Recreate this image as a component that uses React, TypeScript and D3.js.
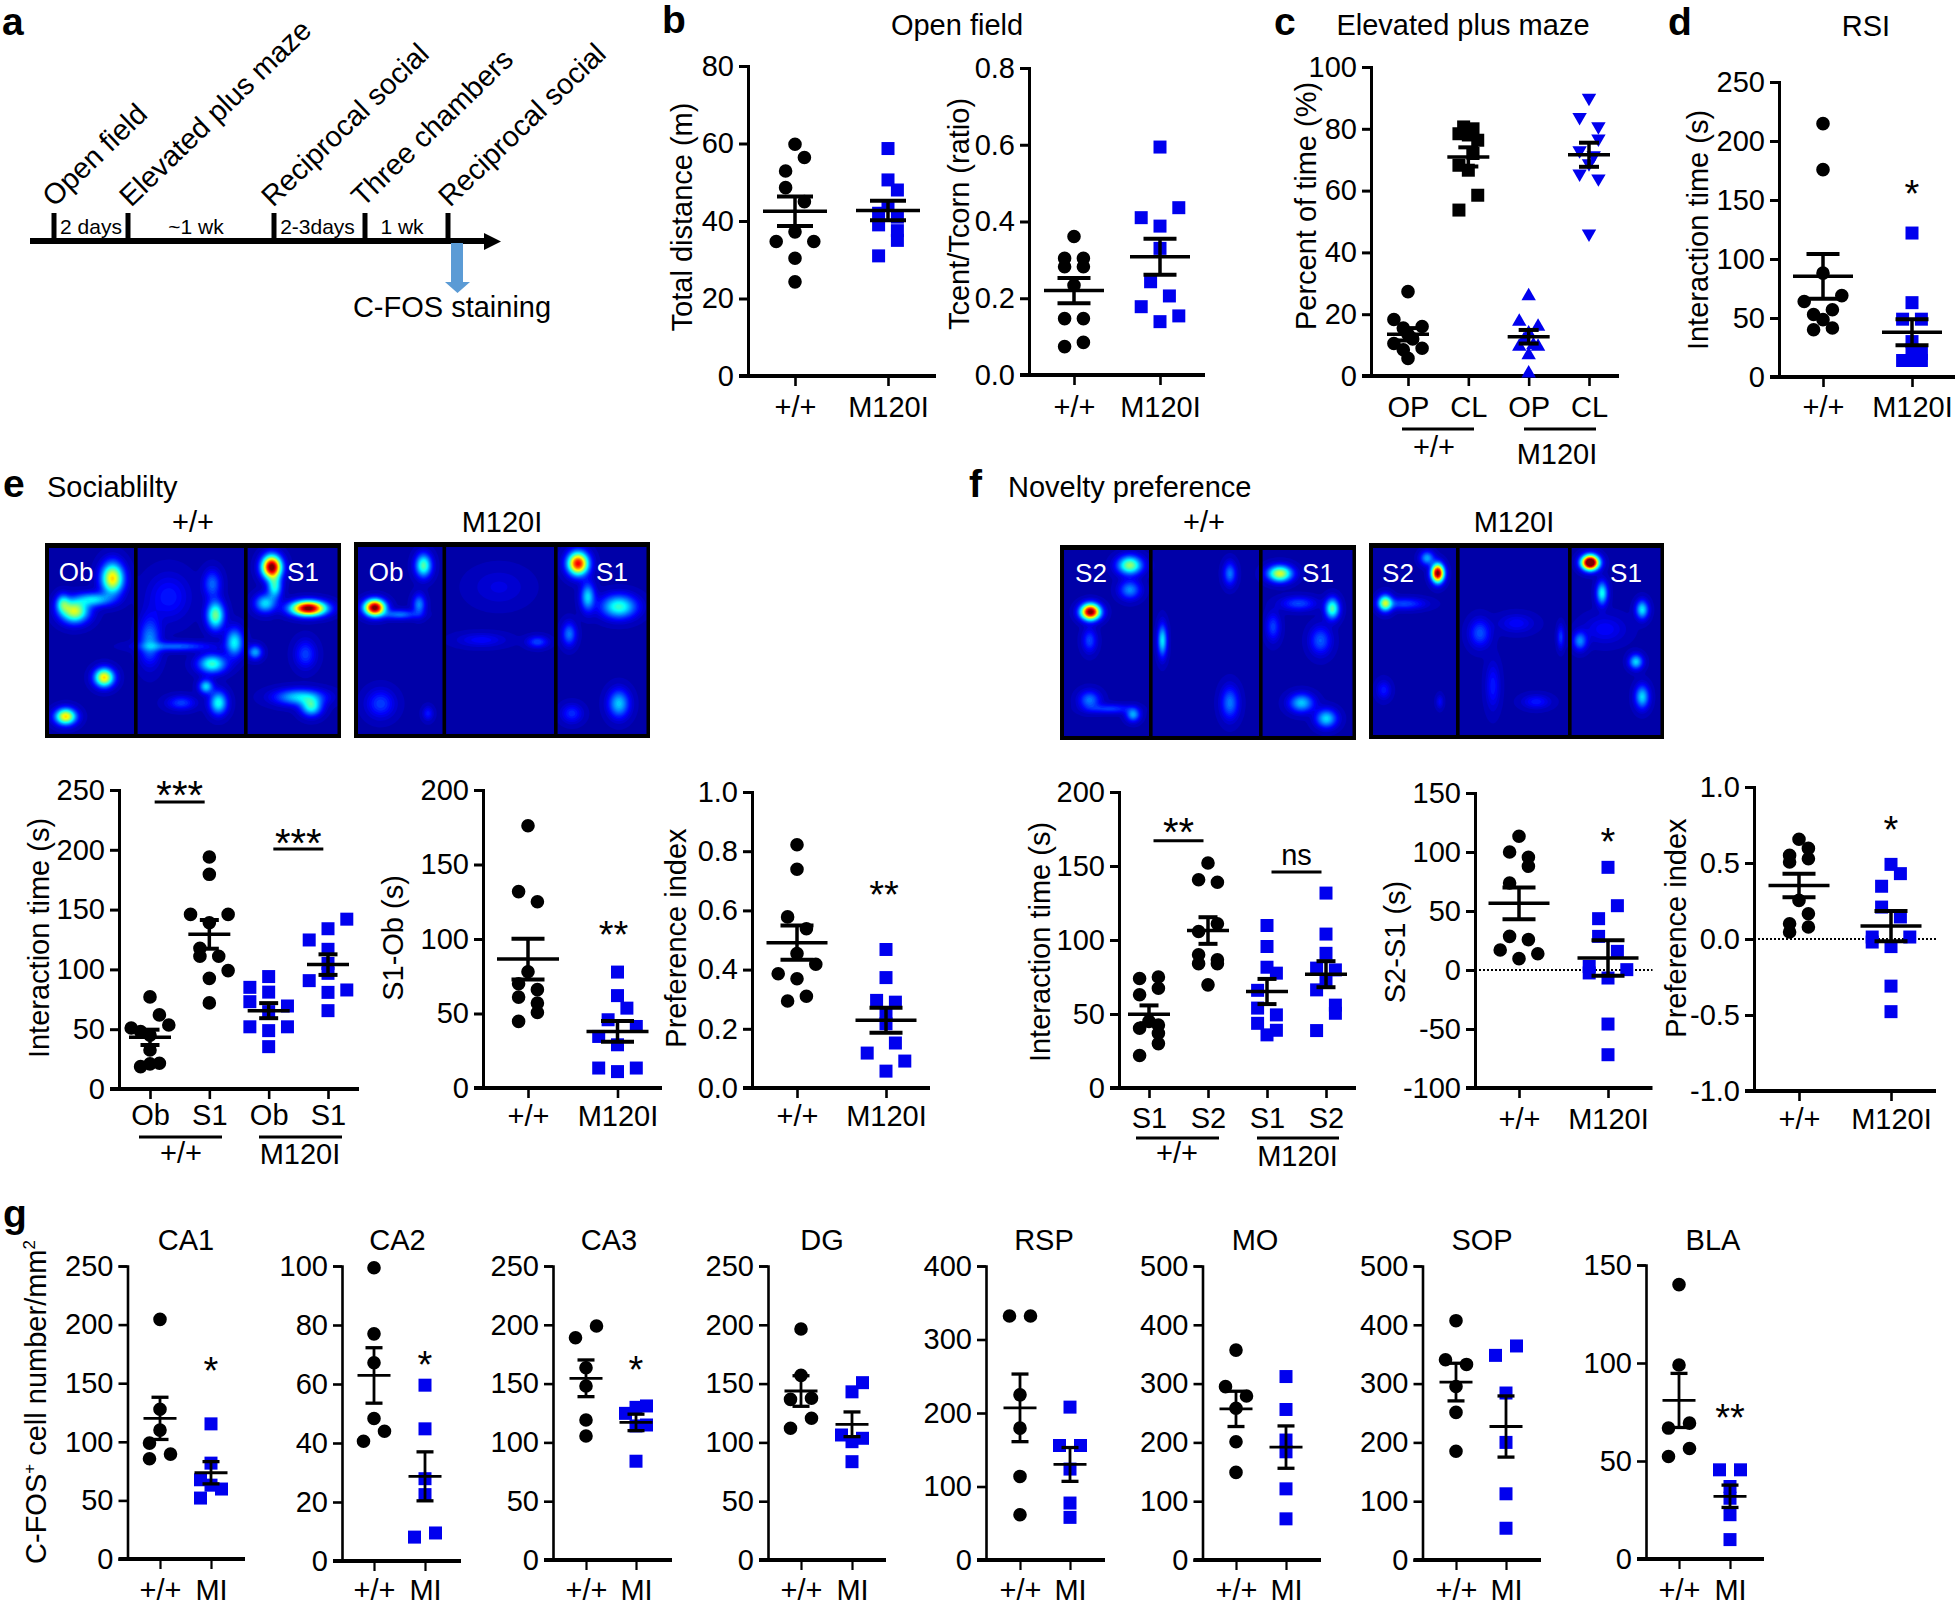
import React, { useEffect, useRef } from "react";
import * as d3 from "d3";

type Pt = [number, number]; // value, swarm column
type Stat = [number, number]; // mean, sem

const FONT = "'Liberation Sans', Arial, sans-serif";
const BLUE = "#0000ee";

// panel b
const bDistWt: Pt[] = [[59.8, 0], [56.4, 1], [52.9, -1], [48.6, -1], [45, 1], [37.2, 0], [34.7, -2], [34.7, 2], [30.4, 0], [24.3, 0]];
const bDistMut: Pt[] = [[58.7, 0], [50.6, 0], [48, 1], [44, 0], [42, -1], [41, 1], [39, -1], [37.5, 1], [35, 1], [31, -1]];
const bDistStats: Stat[] = [[42.5, 3.8], [42.7, 2.5]];
const bRatioWt: Pt[] = [[0.361, 0], [0.304, -1], [0.304, 1], [0.282, -1], [0.282, 1], [0.234, 0], [0.147, -1], [0.147, 1], [0.085, 1], [0.074, -1]];
const bRatioMut: Pt[] = [[0.594, 0], [0.436, 2], [0.41, -2], [0.388, 0], [0.33, 0], [0.243, -1], [0.206, 1], [0.178, -2], [0.154, 2], [0.139, 0]];
const bRatioStats: Stat[] = [[0.22, 0.033], [0.308, 0.047]];

// panel c, columns are half as wide here
const cOpWt: Pt[] = [[27.3, 0], [18.3, -3], [16, 3], [15.5, -1], [13.5, 0], [12, 1], [10.5, -3], [9, 3], [8.5, -1], [5.7, 0]];
const cClWt: Pt[] = [[80.6, -1], [80, 1], [78.4, -2], [78, 0], [76.3, 2], [72, 1], [68.2, -2], [66.6, 0], [58.5, 2], [53.7, -2]];
const cOpMut: Pt[] = [[25.9, 0], [17.6, -2], [16, 2], [13.8, 0], [11.6, -1], [9.5, -2], [9.5, 2], [10, 1], [6.8, 0], [0.9, 0]];
const cClMut: Pt[] = [[90, 0], [83.8, -2], [80.8, 2], [76.8, 2], [73, -2], [71.4, 1], [68.8, 0], [65.5, -2], [63.9, 2], [46.1, 0]];
const cStats: Stat[] = [[13.5, 2], [70.9, 3.1], [12.7, 2.2], [71.6, 3.9]];

// panel d
const dWt: Pt[] = [[214.7, 0], [175.7, 0], [88, 0], [69, 2], [64, -2], [57, 1], [53, -1], [48.6, 0], [41.5, 1], [40, -1]];
const dMut: Pt[] = [[122, 0], [63, 0], [49, -1], [49, 1], [30, 0], [23, 0], [20, 1], [14, -1], [14, 0], [14, 1]];
const dStats: Stat[] = [[85.3, 19], [37.9, 11]];

// panel e
const eObWt: Pt[] = [[77, 0], [62, 1], [53.5, 2], [51, -2], [48, -1], [45, 0], [32.6, 0], [21.5, 1], [21, 0], [18.7, -1]];
const eS1Wt: Pt[] = [[194, 0], [179.5, 0], [146, -2], [146, 2], [139, 0], [117.6, -1], [111, -1], [111, 1], [99, 2], [92.5, 0], [72, 0]];
const eObMut: Pt[] = [[94, 0], [85, -2], [81, 0], [73, -2], [69.4, 2], [64.7, 0], [52, -2], [52, 2], [48.8, 0], [35.4, 0]];
const eS1Mut: Pt[] = [[142, 2], [134, 0], [124.6, -2], [116.8, 0], [105, 0], [96.7, 0], [90.6, -2], [82.8, 2], [80.8, 0], [65.5, 0]];
const eTimeStats: Stat[] = [[43.2, 6.4], [129.3, 12], [65.5, 6.3], [104, 8.6]];
const eDiffWt: Pt[] = [[176, 0], [131.8, -1], [125, 1], [78, 0], [70, -1], [66, 1], [61, -1], [57, 1], [50.7, 1], [44.7, -1]];
const eDiffMut: Pt[] = [[77.8, 0], [62, 0], [53.6, 1], [45.8, -1], [41.3, 2], [34.6, -2], [29, 0], [13.4, -2], [13.4, 2], [11, 0]];
const eDiffStats: Stat[] = [[86.5, 13.7], [38, 7]];
const ePrefWt: Pt[] = [[0.822, 0], [0.739, 0], [0.578, -1], [0.538, 1], [0.454, 0], [0.418, 2], [0.386, -2], [0.369, 0], [0.31, 1], [0.294, -1]];
const ePrefMut: Pt[] = [[0.468, 0], [0.373, 0], [0.296, -1], [0.29, 1], [0.25, 0], [0.217, 0], [0.152, 1], [0.118, -2], [0.091, 2], [0.057, 0]];
const ePrefStats: Stat[] = [[0.491, 0.058], [0.229, 0.042]];

// panel f
const fS1Wt: Pt[] = [[75, 1], [74, -1], [67.4, 1], [63, -1], [45, 0], [42.6, 1], [40.4, -1], [37, 1], [30, 1], [22, -1]];
const fS2Wt: Pt[] = [[152, 0], [140.7, -1], [139, 1], [111, 1], [105.7, -1], [90, -1], [86.6, 1], [84, -1], [84, 1], [69.7, 0]];
const fS1Mut: Pt[] = [[109.8, 0], [95.6, 0], [81.6, 0], [77.6, 1], [66, -1], [54, -1], [49.4, 1], [43.7, -1], [39, 1], [35.9, 0]];
const fS2Mut: Pt[] = [[131.7, 0], [104, 0], [91, 0], [81, -1], [79.8, 1], [73, 0], [66.3, -1], [56, 1], [50.5, 1], [38.8, -1]];
const fTimeStats: Stat[] = [[49.8, 6], [106.4, 9], [65.2, 8.5], [76.9, 8.8]];
const fDiffWt: Pt[] = [[113.3, 0], [100, -1], [95.5, 1], [87.9, 1], [73.7, -1], [28.5, -1], [25.7, 1], [17, -2], [13.8, 2], [9.6, 0]];
const fDiffMut: Pt[] = [[87, 0], [54.5, 1], [43.5, -1], [28.5, -1], [15.8, 1], [3, -2], [0.3, 2], [-2.5, -2], [-6.8, 0], [-45.8, 0], [-71.8, 0]];
const fDiffStats: Stat[] = [[56.5, 13.4], [10.2, 15]];
const fPrefWt: Pt[] = [[0.656, 0], [0.596, 1], [0.55, -1], [0.528, 1], [0.507, -1], [0.254, 0], [0.166, 1], [0.1, -1], [0.079, 1], [0.046, -1]];
const fPrefMut: Pt[] = [[0.491, 0], [0.43, 1], [0.347, -1], [0.21, -1], [0.145, 1], [0.013, -2], [0.013, 2], [-0.02, -2], [-0.05, 0], [-0.31, 0], [-0.478, 0]];
const fPrefStats: Stat[] = [[0.352, 0.077], [0.085, 0.1]];

// panel g
const gCa1Wt: Pt[] = [[204.5, 0], [127.8, 0], [110, 0], [98.9, -1], [89.5, 1], [85.5, -1]];
const gCa1Mut: Pt[] = [[115.3, 0], [81.8, 0], [67.6, -1], [63, 0], [59.7, 1], [52, -1]];
const gCa1Stats: Stat[] = [[120, 18], [73.6, 9.5]];
const gCa2Wt: Pt[] = [[99.4, 0], [77, 0], [67.2, 0], [48.3, 0], [44, 1], [40.6, -1]];
const gCa2Mut: Pt[] = [[59.6, 0], [44.8, 0], [27.9, 0], [22.5, 0], [9.5, 1], [8.1, -1]];
const gCa2Stats: Stat[] = [[62.9, 9.4], [28.7, 8.3]];
const gCa3Wt: Pt[] = [[199, 1], [189, -1], [163.5, 0], [148, 0], [119, 0], [105.4, 0]];
const gCa3Mut: Pt[] = [[131, 1], [129.8, 0], [124.7, -1], [114, 0], [114.8, 1], [84, 0]];
const gCa3Stats: Stat[] = [[154.5, 15.6], [117, 7]];
const gDgWt: Pt[] = [[196.4, 0], [157, 0], [136.6, -1], [137.5, 1], [120.5, 1], [112, -1]];
const gDgMut: Pt[] = [[150.8, 1], [143, 0], [106.3, -1], [103.5, 1], [100.6, 0], [83.6, 0]];
const gDgStats: Stat[] = [[143.7, 13], [115.4, 10.5]];
const gRspWt: Pt[] = [[332, -1], [332, 1], [224.7, 0], [179.4, 0], [113.7, 0], [61.6, 0]];
const gRspMut: Pt[] = [[208, 0], [155.8, -1], [155.8, 1], [123.7, 0], [77.5, 0], [58, 0]];
const gRspStats: Stat[] = [[207, 46], [130, 23]];
const gMoWt: Pt[] = [[357, 0], [294.8, -1], [279, 1], [258, 0], [201, 0], [149, 0]];
const gMoMut: Pt[] = [[312, 0], [256, 0], [204, 0], [184, 0], [121, 0], [70, 0]];
const gMoStats: Stat[] = [[257, 30], [192, 36]];
const gSopWt: Pt[] = [[407, 0], [340.5, -1], [332.6, 1], [295, 0], [251, 0], [185, 0]];
const gSopMut: Pt[] = [[364, 1], [348, -1], [284, 0], [200, 0], [112.6, 0], [54, 0]];
const gSopStats: Stat[] = [[302.6, 32], [227, 52]];
const gBlaWt: Pt[] = [[140, 0], [99, 0], [69.3, 1], [66.8, -1], [56.4, 1], [52.3, -1]];
const gBlaMut: Pt[] = [[45.5, -1], [45.5, 1], [37, 0], [31, 0], [22.6, 0], [9.9, 0]];
const gBlaStats: Stat[] = [[80.9, 13.8], [32, 5.7]];

const pairLabels = ["+/+", "M120I"];
const miLabels = ["+/+", "MI"];

// heat spots: centre u, v, spread su, sv (percent of the map), peak
type Spot = [number, number, number, number, number];
const heatSocialWt: Spot[] = [
  [22.8, 18.2, 3.2, 6.8, 0.62], [10, 35, 4, 5, 0.55], [16.5, 29, 5, 3, 0.3], [6, 31, 2, 4, 0.3],
  [20, 69, 2.8, 4, 0.62], [7, 89, 3, 3.5, 0.62], [57.6, 37, 2.5, 6, 0.45], [56.5, 21, 2.5, 6, 0.18],
  [64, 51, 2.5, 6, 0.33], [56.5, 62, 4, 4, 0.38], [54.4, 73.6, 2, 3, 0.3], [58.6, 82, 2.5, 5, 0.35],
  [35.4, 50, 3, 10, 0.22], [44, 53, 10, 2, 0.18], [46, 82, 4, 3, 0.14], [41.8, 27.6, 6, 10, 0.1],
  [76.6, 12.3, 2.8, 5, 1], [77.6, 22.5, 2, 5, 0.35], [89, 33.5, 5, 3.2, 1], [74.4, 31, 3, 4, 0.3],
  [86, 79, 7, 3.5, 0.3], [90, 84, 3, 4, 0.35], [71, 56, 2, 3, 0.25], [88, 57, 3, 6, 0.14],
];
const heatSocialMut: Spot[] = [
  [7, 33.5, 3, 3.5, 1], [23.5, 12, 2.3, 5, 0.42], [22, 32, 1.8, 4.5, 0.22], [15.4, 37, 5, 2, 0.2],
  [9, 82.5, 4, 6, 0.14], [25, 87.5, 1.5, 3, 0.1], [49, 23, 8, 8, 0.05], [62, 51, 3, 2.5, 0.15],
  [43, 50, 7, 3, 0.08], [75.7, 11, 3, 5, 0.85], [79, 28, 2, 6, 0.3], [89.5, 33, 5, 5, 0.38],
  [72.7, 47, 2, 5, 0.2], [89.5, 82.5, 3, 6, 0.28], [73.6, 87.5, 3, 4, 0.12],
];
const heatNoveltyWt: Spot[] = [
  [10.3, 34.3, 2.8, 3.5, 1], [23.6, 10.4, 3.5, 4, 0.48], [23.6, 23, 3, 4, 0.22], [10, 49, 2, 5, 0.15],
  [10, 79.5, 3, 4, 0.2], [24.7, 87, 2, 3, 0.25], [17, 84, 6, 2, 0.14], [57.4, 14.7, 1.8, 5, 0.2],
  [34.6, 49, 1.3, 7, 0.32], [57.4, 81, 2.5, 7, 0.2], [74.3, 14.7, 3.5, 3.5, 0.55], [92, 32.6, 2, 4.5, 0.42],
  [80.6, 30, 5, 3, 0.15], [88, 49, 3, 6, 0.17], [81.6, 81, 3.5, 4, 0.28], [90, 89, 3, 4, 0.3], [72, 42, 2, 6, 0.14],
];
const heatNoveltyMut: Spot[] = [
  [23.3, 15.4, 1.8, 4, 1], [19.7, 7.7, 2, 3, 0.25], [5.5, 30.7, 2, 3.5, 0.5], [12, 31, 6, 2.5, 0.15],
  [5, 75, 2, 4, 0.1], [24, 81, 1, 3, 0.08], [37.6, 46, 3, 6, 0.16], [50, 41, 5, 4, 0.08], [65, 48, 1, 5, 0.14],
  [42, 73, 2, 10, 0.1], [56.7, 81, 4, 3, 0.1], [75, 10, 2.5, 3.2, 1.2], [79, 25.6, 1.6, 5, 0.35],
  [92.6, 34, 1.8, 4, 0.32], [71.5, 50, 2, 4, 0.22], [90.5, 60.6, 2, 3.2, 0.3], [92.6, 78.5, 2, 5, 0.3], [80, 44, 6, 6, 0.08],
];

type Sig = { a: number; b: number; value: number; text: string; starValue: number };
type Star = { cat: number; value: number; text: string; dx?: number };
type Group = { text: string; center: number; base: number; x1: number; x2: number };

type Panel = {
  ax: number; top: number; bottom: number; xEnd: number;
  catX: [number, number];
  cats: string[];
  domain: [number, number];
  step: number;
  fmt?: (d: number) => string;
  series: Pt[][];
  stats: Stat[];
  shapes: string[];
  meanW: number; capW: number;
  labelBase: number;
  slotStep?: number;
  yTitle?: string; yTitleX?: number; yTitleY?: number;
  title?: string; titleX?: number; titleBase?: number;
  stars?: Star[];
  sigs?: Sig[];
  groups?: Group[];
  underY?: number;
  zero?: boolean;
  thin?: boolean;
  ns?: { a: number; b: number; value: number; textValue: number };
};

const fixed1 = (d: number) => d.toFixed(1);
const ci = ["circle", "square"];

const panels: Panel[] = [
  { ax: 748, top: 66, bottom: 376, xEnd: 936, catX: [795, 888], cats: pairLabels, domain: [0, 80], step: 20, series: [bDistWt, bDistMut], stats: bDistStats, shapes: ci, meanW: 64, capW: 36, labelBase: 417, yTitle: "Total distance (m)", yTitleX: 692, yTitleY: 217 },
  { ax: 1029, top: 68, bottom: 375, xEnd: 1205, catX: [1074, 1160], cats: pairLabels, domain: [0, 0.8], step: 0.2, fmt: fixed1, series: [bRatioWt, bRatioMut], stats: bRatioStats, shapes: ci, meanW: 60, capW: 33, labelBase: 417, yTitle: "Tcent/Tcorn (ratio)", yTitleX: 969, yTitleY: 214 },
  { ax: 1371, top: 67, bottom: 376, xEnd: 1619, catX: [1408, 1589], cats: ["OP", "CL", "OP", "CL"], domain: [0, 100], step: 20, series: [cOpWt, cClWt, cOpMut, cClMut], stats: cStats, shapes: ["circle", "squareK", "up", "down"], meanW: 42, capW: 20, labelBase: 417, slotStep: 4.7, yTitle: "Percent of time (%)", yTitleX: 1316, yTitleY: 206, underY: 429,
    groups: [{ text: "+/+", center: 1434, base: 457, x1: 1402, x2: 1474 }, { text: "M120I", center: 1557, base: 464, x1: 1524, x2: 1596 }] },
  { ax: 1779, top: 82, bottom: 377, xEnd: 1955, catX: [1823, 1912], cats: pairLabels, domain: [0, 250], step: 50, series: [dWt, dMut], stats: dStats, shapes: ci, meanW: 60, capW: 33, labelBase: 417, yTitle: "Interaction time (s)", yTitleX: 1708, yTitleY: 230, stars: [{ cat: 1, value: 163, text: "*" }] },
  { ax: 119, top: 790, bottom: 1089, xEnd: 359, catX: [150, 328], cats: ["Ob", "S1", "Ob", "S1"], domain: [0, 250], step: 50, series: [eObWt, eS1Wt, eObMut, eS1Mut], stats: eTimeStats, shapes: ["circle", "circle", "square", "square"], meanW: 42, capW: 19, labelBase: 1125, yTitle: "Interaction time (s)", yTitleX: 49, yTitleY: 938, underY: 1137,
    groups: [{ text: "+/+", center: 181, base: 1163, x1: 139, x2: 222 }, { text: "M120I", center: 300, base: 1164, x1: 259, x2: 342 }],
    sigs: [{ a: 0, b: 1, value: 240, text: "***", starValue: 253 }, { a: 2, b: 3, value: 200.7, text: "***", starValue: 213.6 }] },
  { ax: 483, top: 790, bottom: 1088, xEnd: 662, catX: [528, 617.5], cats: pairLabels, domain: [0, 200], step: 50, series: [eDiffWt, eDiffMut], stats: eDiffStats, shapes: ci, meanW: 62, capW: 33, labelBase: 1126, yTitle: "S1-Ob (s)", yTitleX: 403, yTitleY: 938, stars: [{ cat: 1, value: 109, text: "**", dx: -4 }] },
  { ax: 752, top: 792, bottom: 1088, xEnd: 930, catX: [797, 886], cats: pairLabels, domain: [0, 1], step: 0.2, fmt: fixed1, series: [ePrefWt, ePrefMut], stats: ePrefStats, shapes: ci, meanW: 61, capW: 33, labelBase: 1126, yTitle: "Preference index", yTitleX: 686, yTitleY: 938, stars: [{ cat: 1, value: 0.682, text: "**", dx: -2 }] },
  { ax: 1119, top: 792, bottom: 1088, xEnd: 1356, catX: [1149, 1326], cats: ["S1", "S2", "S1", "S2"], domain: [0, 200], step: 50, series: [fS1Wt, fS2Wt, fS1Mut, fS2Mut], stats: fTimeStats, shapes: ["circle", "circle", "square", "square"], meanW: 42, capW: 19, labelBase: 1128, yTitle: "Interaction time (s)", yTitleX: 1050, yTitleY: 942, underY: 1138,
    groups: [{ text: "+/+", center: 1177, base: 1163, x1: 1136, x2: 1219 }, { text: "M120I", center: 1297.5, base: 1166, x1: 1257, x2: 1339 }],
    sigs: [{ a: 0, b: 1, value: 167, text: "**", starValue: 179 }],
    ns: { a: 2, b: 3, value: 146, textValue: 151 } },
  { ax: 1475, top: 793, bottom: 1088, xEnd: 1652.5, catX: [1519, 1608], cats: pairLabels, domain: [-100, 150], step: 50, series: [fDiffWt, fDiffMut], stats: fDiffStats, shapes: ci, meanW: 61, capW: 33, labelBase: 1129, yTitle: "S2-S1 (s)", yTitleX: 1405, yTitleY: 942, zero: true, stars: [{ cat: 1, value: 116, text: "*" }] },
  { ax: 1754, top: 787, bottom: 1091, xEnd: 1936, catX: [1799, 1891], cats: pairLabels, domain: [-1, 1], step: 0.5, fmt: fixed1, series: [fPrefWt, fPrefMut], stats: fPrefStats, shapes: ci, meanW: 61, capW: 33, labelBase: 1129, yTitle: "Preference index", yTitleX: 1686, yTitleY: 928, zero: true, stars: [{ cat: 1, value: 0.776, text: "*" }] },
  { ax: 127.5, top: 1266, bottom: 1559, xEnd: 245, catX: [160, 211], cats: miLabels, domain: [0, 250], step: 50, series: [gCa1Wt, gCa1Mut], stats: gCa1Stats, shapes: ci, meanW: 33, capW: 17, labelBase: 1600, title: "CA1", titleX: 186, titleBase: 1250, thin: true, stars: [{ cat: 1, value: 168, text: "*" }] },
  { ax: 342, top: 1266, bottom: 1561, xEnd: 461, catX: [374, 425], cats: miLabels, domain: [0, 100], step: 20, series: [gCa2Wt, gCa2Mut], stats: gCa2Stats, shapes: ci, meanW: 33, capW: 17, labelBase: 1600, title: "CA2", titleX: 397.5, titleBase: 1250, thin: true, stars: [{ cat: 1, value: 69.5, text: "*" }] },
  { ax: 553, top: 1266, bottom: 1560, xEnd: 672, catX: [586, 636], cats: miLabels, domain: [0, 250], step: 50, series: [gCa3Wt, gCa3Mut], stats: gCa3Stats, shapes: ci, meanW: 33, capW: 17, labelBase: 1600, title: "CA3", titleX: 609, titleBase: 1250, thin: true, stars: [{ cat: 1, value: 169, text: "*" }] },
  { ax: 768, top: 1266, bottom: 1560, xEnd: 886, catX: [801, 852], cats: miLabels, domain: [0, 250], step: 50, series: [gDgWt, gDgMut], stats: gDgStats, shapes: ci, meanW: 33, capW: 17, labelBase: 1600, title: "DG", titleX: 822, titleBase: 1250, thin: true },
  { ax: 986, top: 1266, bottom: 1560, xEnd: 1105, catX: [1020, 1070], cats: miLabels, domain: [0, 400], step: 100, series: [gRspWt, gRspMut], stats: gRspStats, shapes: ci, meanW: 33, capW: 17, labelBase: 1600, title: "RSP", titleX: 1044, titleBase: 1250, thin: true },
  { ax: 1202.5, top: 1266, bottom: 1560, xEnd: 1321, catX: [1236, 1286], cats: miLabels, domain: [0, 500], step: 100, series: [gMoWt, gMoMut], stats: gMoStats, shapes: ci, meanW: 33, capW: 17, labelBase: 1600, title: "MO", titleX: 1255, titleBase: 1250, thin: true },
  { ax: 1422.5, top: 1266, bottom: 1560, xEnd: 1541, catX: [1456, 1506], cats: miLabels, domain: [0, 500], step: 100, series: [gSopWt, gSopMut], stats: gSopStats, shapes: ci, meanW: 33, capW: 17, labelBase: 1600, title: "SOP", titleX: 1482, titleBase: 1250, thin: true },
  { ax: 1646, top: 1265, bottom: 1559, xEnd: 1764, catX: [1679, 1730], cats: miLabels, domain: [0, 150], step: 50, series: [gBlaWt, gBlaMut], stats: gBlaStats, shapes: ci, meanW: 33, capW: 17, labelBase: 1600, title: "BLA", titleX: 1713, titleBase: 1250, thin: true, stars: [{ cat: 1, value: 76.5, text: "**" }] },
];

const heatMaps = [
  { x0: 45, x1: 341, y0: 543, y1: 738, dividers: [134, 244], spots: heatSocialWt, left: "Ob", right: "S1", leftX: 76, rightX: 303, labelY: 581 },
  { x0: 354, x1: 650, y0: 542, y1: 738, dividers: [442.5, 554], spots: heatSocialMut, left: "Ob", right: "S1", leftX: 386, rightX: 612, labelY: 581 },
  { x0: 1060, x1: 1356, y0: 545, y1: 740, dividers: [1149, 1259], spots: heatNoveltyWt, left: "S2", right: "S1", leftX: 1091, rightX: 1318, labelY: 582 },
  { x0: 1369, x1: 1664, y0: 543, y1: 739, dividers: [1456, 1568], spots: heatNoveltyMut, left: "S2", right: "S1", leftX: 1398, rightX: 1626, labelY: 582 },
];

const jet = d3
  .scaleLinear<string>()
  .domain([0, 0.125, 0.375, 0.625, 0.875, 1])
  .range(["#00007f", "#0000ff", "#00ffff", "#ffff00", "#ff0000", "#7f0000"])
  .clamp(true);

function text(
  g: d3.Selection<any, unknown, null, undefined>,
  str: string, x: number, y: number, size = 29, anchor = "middle", weight = "normal"
) {
  return g
    .append("text")
    .attr("x", x)
    .attr("y", y)
    .attr("text-anchor", anchor)
    .attr("font-size", size)
    .attr("font-weight", weight)
    .attr("font-family", FONT)
    .attr("fill", "#000")
    .text(str);
}

function drawPanel(svg: d3.Selection<any, unknown, null, undefined>, p: Panel) {
  const g = svg.append("g");
  const axisW = p.thin ? 2.6 : 3;
  const slotStep = p.slotStep || (p.thin ? 10.5 : 9.4);

  const y = d3.scaleLinear().domain(p.domain).range([p.bottom, p.top]);
  const x = d3.scalePoint<number>().domain(d3.range(p.cats.length)).range(p.catX);
  const slot = d3.scaleLinear().domain([-2, 2]).range([-2 * slotStep, 2 * slotStep]);

  // axes
  const yAxis = d3
    .axisLeft(y)
    .tickValues(d3.range(p.domain[0], p.domain[1] + p.step / 2, p.step))
    .tickSizeOuter(0)
    .tickSize(9)
    .tickPadding(5)
    .tickFormat((d) => (p.fmt ? p.fmt(+d) : `${+d}`));
  const ya = g.append("g").attr("transform", `translate(${p.ax},0)`).call(yAxis as any);
  ya.attr("font-size", 29).attr("font-family", FONT);
  ya.selectAll("path,line").attr("stroke", "#000").attr("stroke-width", axisW);

  const xAxis = d3
    .axisBottom(x)
    .tickSizeOuter(0)
    .tickSize(10)
    .tickPadding(p.labelBase - p.bottom - 10 - 20.6)
    .tickFormat((d) => p.cats[+d]);
  const xa = g.append("g").attr("transform", `translate(0,${p.bottom})`).call(xAxis as any);
  xa.attr("font-size", 29).attr("font-family", FONT);
  xa.select(".domain").remove();
  xa.selectAll("line").attr("stroke", "#000").attr("stroke-width", axisW - 0.4);
  g.append("line")
    .attr("x1", p.ax - 9)
    .attr("x2", p.xEnd)
    .attr("y1", p.bottom)
    .attr("y2", p.bottom)
    .attr("stroke", "#000")
    .attr("stroke-width", 4);

  if (p.zero) {
    g.append("line")
      .attr("x1", p.ax)
      .attr("x2", p.xEnd)
      .attr("y1", y(0))
      .attr("y2", y(0))
      .attr("stroke", "#000")
      .attr("stroke-width", 2)
      .attr("stroke-dasharray", "2 2");
  }

  // points
  const circle = d3.symbol().type(d3.symbolCircle).size(Math.PI * 6.8 * 6.8)();
  const square = d3.symbol().type(d3.symbolSquare).size(169)();
  const tri = d3.symbol().type(d3.symbolTriangle).size(90)();
  p.series.forEach((pts, i) => {
    const shape = p.shapes[i];
    const fill = shape === "circle" || shape === "squareK" ? "#000" : BLUE;
    const d = shape === "circle" ? circle : shape === "up" || shape === "down" ? tri : square;
    g.append("g")
      .selectAll("path")
      .data(pts)
      .join("path")
      .attr("d", d as string)
      .attr("fill", fill)
      .attr(
        "transform",
        (v) => `translate(${x(i)! + slot(v[1])},${y(v[0])})${shape === "down" ? " rotate(180)" : ""}`
      );
  });

  // mean and sem
  const barW = p.thin ? 2.8 : 3.5;
  p.stats.forEach(([mean, sem], i) => {
    const cx = x(i)!;
    const bars = g.append("g").attr("stroke", "#000");
    bars.append("line").attr("x1", cx).attr("x2", cx).attr("y1", y(mean + sem)).attr("y2", y(mean - sem)).attr("stroke-width", barW);
    [mean + sem, mean - sem].forEach((v) =>
      bars.append("line").attr("x1", cx - p.capW / 2).attr("x2", cx + p.capW / 2).attr("y1", y(v)).attr("y2", y(v)).attr("stroke-width", barW + 0.5)
    );
    bars.append("line").attr("x1", cx - p.meanW / 2).attr("x2", cx + p.meanW / 2).attr("y1", y(mean)).attr("y2", y(mean)).attr("stroke-width", barW);
  });

  // annotations
  (p.sigs || []).forEach((s) => {
    const mid = (x(s.a)! + x(s.b)!) / 2;
    g.append("line").attr("x1", mid - 25).attr("x2", mid + 25).attr("y1", y(s.value)).attr("y2", y(s.value)).attr("stroke", "#000").attr("stroke-width", 3);
    text(g, s.text, mid, y(s.starValue) + 23, 40);
  });
  if (p.ns) {
    const mid = (x(p.ns.a)! + x(p.ns.b)!) / 2;
    g.append("line").attr("x1", mid - 25).attr("x2", mid + 25).attr("y1", y(p.ns.value)).attr("y2", y(p.ns.value)).attr("stroke", "#000").attr("stroke-width", 3);
    text(g, "ns", mid, y(p.ns.textValue));
  }
  (p.stars || []).forEach((s) => text(g, s.text, x(s.cat)! + (s.dx || 0), y(s.value) + 22, 38));
  (p.groups || []).forEach((gr) => {
    g.append("line").attr("x1", gr.x1).attr("x2", gr.x2).attr("y1", p.underY!).attr("y2", p.underY!).attr("stroke", "#000").attr("stroke-width", 3);
    text(g, gr.text, gr.center, gr.base);
  });

  if (p.yTitle) {
    text(g, p.yTitle, 0, 0).attr("transform", `translate(${p.yTitleX},${p.yTitleY}) rotate(-90)`);
  }
  if (p.title) text(g, p.title, p.titleX!, p.titleBase!);
}

const SPREAD = 0.78; // the read-off blob sizes are visible extents, a bit wider than sigma

function drawHeat(svg: d3.Selection<any, unknown, null, undefined>, m: (typeof heatMaps)[number]) {
  const cell = 2;
  const w = m.x1 - m.x0;
  const h = m.y1 - m.y0;
  const nx = Math.ceil(w / cell);
  const ny = Math.ceil(h / cell);
  const field = new Array(nx * ny);
  for (let j = 0; j < ny; j += 1) {
    for (let i = 0; i < nx; i += 1) {
      const u = ((i + 0.5) / nx) * 100;
      const v = ((j + 0.5) / ny) * 100;
      let sum = 0.055;
      m.spots.forEach(([cu, cv, su, sv, a]) => {
        const sx = su * SPREAD;
        const sy = sv * SPREAD;
        sum += a * Math.exp(-((u - cu) ** 2) / (2 * sx * sx) - ((v - cv) ** 2) / (2 * sy * sy));
      });
      field[j * nx + i] = sum;
    }
  }
  const levels = d3.range(0.02, 1.3, 0.02);
  const contours = d3.contours().size([nx, ny]).thresholds(levels)(field);
  const path = d3.geoPath();
  const g = svg.append("g").attr("transform", `translate(${m.x0},${m.y0}) scale(${w / nx},${h / ny})`);
  g.selectAll("path")
    .data(contours)
    .join("path")
    .attr("d", path as any)
    .attr("fill", (d) => jet(d.value));

  const frame = svg.append("g").attr("fill", "#000");
  frame.append("rect").attr("x", m.x0).attr("y", m.y0).attr("width", w).attr("height", 5);
  frame.append("rect").attr("x", m.x0).attr("y", m.y1 - 4).attr("width", w).attr("height", 4);
  frame.append("rect").attr("x", m.x0).attr("y", m.y0).attr("width", 4).attr("height", h);
  frame.append("rect").attr("x", m.x1 - 3.5).attr("y", m.y0).attr("width", 3.5).attr("height", h);
  m.dividers.forEach((dx) => frame.append("rect").attr("x", dx).attr("y", m.y0).attr("width", 3.6).attr("height", h));

  text(svg, m.left, m.leftX, m.labelY, 26).attr("fill", "#fff");
  text(svg, m.right, m.rightX, m.labelY, 26).attr("fill", "#fff");
}

function drawTimeline(svg: d3.Selection<any, unknown, null, undefined>) {
  const g = svg.append("g");
  g.append("line").attr("x1", 30).attr("x2", 486).attr("y1", 241).attr("y2", 241).attr("stroke", "#000").attr("stroke-width", 6);
  g.append("path").attr("d", "M484,233L501,241.500L484,250Z").attr("fill", "#000");
  [54, 128, 274, 365, 448].forEach((tx) =>
    g.append("line").attr("x1", tx).attr("x2", tx).attr("y1", 213).attr("y2", 241).attr("stroke", "#000").attr("stroke-width", 5)
  );
  const spans: [string, number][] = [["2 days", 91], ["~1 wk", 196], ["2-3days", 317.5], ["1 wk", 402]];
  spans.forEach(([s, cx]) => text(g, s, cx, 234, 21));
  const steps: [string, number][] = [
    ["Open field", 54], ["Elevated plus maze", 131], ["Reciprocal social", 273], ["Three chambers", 363], ["Reciprocal social", 450],
  ];
  steps.forEach(([s, bx]) => text(g, s, 0, 0, 29, "start").attr("transform", `translate(${bx},208) rotate(-44)`));
  g.append("path")
    .attr("d", "M451,243H463V282H470L457.500,293L445,282H451Z")
    .attr("fill", "#5b9bd5");
  text(g, "C-FOS staining", 452, 317, 29);
}

export default function App() {
  const ref = useRef<SVGSVGElement>(null);

  useEffect(() => {
    const svg = d3.select(ref.current as SVGSVGElement);
    svg.selectAll("*").remove();

    const letters: [string, number, number][] = [
      ["a", 2, 35], ["b", 662, 33], ["c", 1274, 35], ["d", 1668, 35], ["e", 3, 497], ["f", 969, 497], ["g", 3, 1227],
    ];
    letters.forEach(([s, x, y]) => text(svg, s, x, y, 39, "start", "bold"));

    text(svg, "Open field", 957, 35);
    text(svg, "Elevated plus maze", 1463, 35);
    text(svg, "RSI", 1866, 36);
    text(svg, "Sociablilty", 47, 497, 29, "start");
    text(svg, "Novelty preference", 1008, 497, 29, "start");
    text(svg, "+/+", 193, 532);
    text(svg, "M120I", 502, 532);
    text(svg, "+/+", 1204, 532);
    text(svg, "M120I", 1514, 532);

    drawTimeline(svg);
    heatMaps.forEach((m) => drawHeat(svg, m));
    panels.forEach((p) => drawPanel(svg, p));

    const fos = text(svg, "", 0, 0).attr("transform", "translate(46,1402) rotate(-90)");
    fos.append("tspan").text("C-FOS");
    fos.append("tspan").attr("font-size", 17).attr("dy", -11).text("+");
    fos.append("tspan").attr("dy", 11).text(" cell number/mm");
    fos.append("tspan").attr("font-size", 17).attr("dy", -11).text("2");
  }, []);

  return (
    <svg
      ref={ref}
      width={1960}
      height={1606}
      style={{ position: "absolute", left: 0, top: 0, display: "block", background: "#fff" }}
    />
  );
}
